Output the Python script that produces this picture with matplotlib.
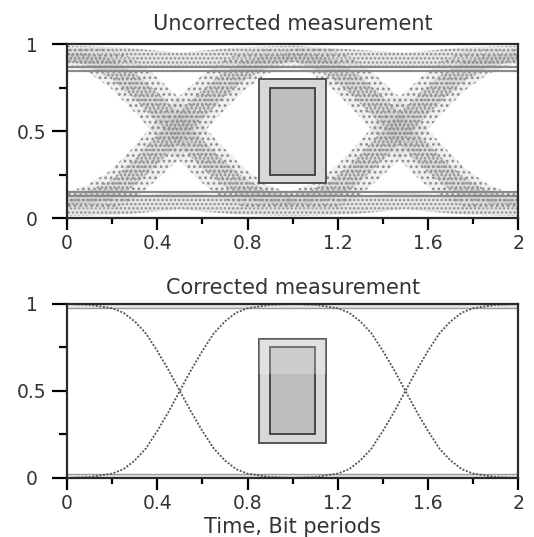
import matplotlib
matplotlib.use("Agg")
import matplotlib.pyplot as plt
import numpy as np

plt.rcParams['font.family'] = ['DejaVu Sans']
plt.rcParams['hatch.color'] = '#8e8e8e'
plt.rcParams['hatch.linewidth'] = 1.2

# ---- data ----
# x-axis ticks (bit periods)
major_ticks = [0, 0.4, 0.8, 1.2, 1.6, 2.0]
major_labels = ['0', '0.4', '0.8', '1.2', '1.6', '2']
minor_ticks = [0.2, 0.6, 1.0, 1.4, 1.8]
y_ticks = [0, 0.5, 1]
y_labels = ['0', '0.5', '1']
y_minor = [0.25, 0.75]

# eye mask (outer and inner rectangle): x0, x1, y0, y1
mask_outer = [0.85, 1.15, 0.20, 0.80]
mask_inner = [0.90, 1.10, 0.25, 0.75]
mask_split = 0.6   # lighter shade above this level in the corrected panel

# corrected: one falling edge, offsets from the crossing point
edge_off = [-0.5, -0.4, -0.3, -0.25, -0.2, -0.15, -0.1, -0.05, 0.0,
            0.05, 0.1, 0.15, 0.2, 0.25, 0.3, 0.4, 0.5]
edge_fall = [1.0, 0.995, 0.975, 0.95, 0.90, 0.83, 0.73, 0.62, 0.50,
             0.38, 0.27, 0.17, 0.10, 0.05, 0.025, 0.005, 0.0]
corr_cross = [0.5, 1.5]
corr_rails = [0.975, 0.025]

# uncorrected: noisy transition centre and spread
noisy_off = [-0.5, -0.4, -0.3, -0.2, -0.1, 0.0, 0.1, 0.2, 0.3, 0.4, 0.5]
noisy_fall = [0.93, 0.91, 0.86, 0.77, 0.65, 0.52, 0.38, 0.26, 0.17, 0.12, 0.10]
noisy_rise = [0.10, 0.12, 0.16, 0.25, 0.38, 0.51, 0.64, 0.76, 0.85, 0.90, 0.92]
noisy_spread = [0.04, 0.07, 0.11, 0.15, 0.17, 0.18, 0.17, 0.15, 0.11, 0.07, 0.04]
noisy_cross = [0.49, 1.47]

# uncorrected: clouds around the two levels
rail_x = [0, 0.25, 0.5, 0.75, 1.0, 1.25, 1.5, 1.75, 2.0]
upper_hi = [0.99, 0.98, 0.95, 0.98, 0.99, 0.97, 0.95, 0.98, 0.99]
upper_lo = [0.89, 0.88, 0.86, 0.88, 0.90, 0.88, 0.86, 0.88, 0.89]
lower_hi = [0.11, 0.12, 0.15, 0.12, 0.10, 0.12, 0.15, 0.12, 0.10]
lower_lo = [0.01, 0.02, 0.05, 0.02, 0.01, 0.02, 0.05, 0.02, 0.01]
unc_rails = [0.868, 0.845, 0.150, 0.125]

fig = plt.figure(figsize=(5.34, 5.37), dpi=100)
ax1 = fig.add_axes([0.1255, 0.594, 0.845, 0.324])
ax2 = fig.add_axes([0.1255, 0.110, 0.845, 0.324])

sparse_kw = dict(facecolor='#d2d2d2', edgecolor='none', linewidth=0,
                 alpha=0.35, hatch='...')
dense_kw = dict(facecolor='#bcbcbc', edgecolor='none', linewidth=0,
                alpha=0.35, hatch='....')

# --- uncorrected panel ---
ax1.fill_between(rail_x, upper_lo, upper_hi, **dense_kw)
ax1.fill_between(rail_x, lower_lo, lower_hi, **dense_kw)
off = np.array(noisy_off)
spr = np.array(noisy_spread)
for c in [noisy_cross[0] - 1, noisy_cross[0], noisy_cross[1], noisy_cross[1] + 1]:
    for curve in (noisy_fall, noisy_rise):
        yc = np.array(curve)
        ax1.fill_between(off + c, yc - spr, yc + spr, **sparse_kw)
        ax1.fill_between(off + c, yc - spr * 0.5, yc + spr * 0.5, **dense_kw)
for r in unc_rails:
    ax1.axhline(r, color='#8a8a8a', lw=1.6)

# --- corrected panel ---
eo = np.array(edge_off)
ef = np.array(edge_fall)
er = 1 - ef
line_kw = dict(color='#555555', lw=1.3, linestyle=(0, (1.1, 0.9)))
ax2.axhspan(corr_rails[0], 1, color='#e6e6e6', lw=0)
ax2.axhspan(0, corr_rails[1], color='#e6e6e6', lw=0)
for r in corr_rails:
    ax2.axhline(r, color='#9a9a9a', lw=1.0)
xa = np.concatenate([eo + corr_cross[0], eo + corr_cross[1]])
ya = np.concatenate([ef, er])
yb = np.concatenate([er, ef])
ax2.plot(xa, ya, **line_kw)
ax2.plot(xa, yb, **line_kw)

# --- mask rectangles ---
for ax in (ax1, ax2):
    x0, x1, y0, y1 = mask_outer
    ax.add_patch(plt.Rectangle((x0, y0), x1 - x0, y1 - y0, facecolor='#d8d8d8',
                               edgecolor='#4a4a4a', lw=1.3, zorder=3))
    x0, x1, y0, y1 = mask_inner
    ax.add_patch(plt.Rectangle((x0, y0), x1 - x0, y1 - y0, facecolor='#bdbdbd',
                               edgecolor='#3c3c3c', lw=1.3, zorder=4))

# lighter upper part in the corrected mask
x0, x1, y0, y1 = mask_outer
ax2.add_patch(plt.Rectangle((x0, mask_split), x1 - x0, y1 - mask_split,
                            facecolor='white', edgecolor='none', alpha=0.25, zorder=5))

for ax in (ax1, ax2):
    ax.set_xlim(0, 2)
    ax.set_ylim(0, 1)
    ax.set_xticks(major_ticks)
    ax.set_xticks(minor_ticks, minor=True)
    ax.set_yticks(y_ticks)
    ax.set_yticks(y_minor, minor=True)
    ax.set_xticklabels(major_labels)
    ax.set_yticklabels(y_labels, ha='center')
    ax.tick_params(axis='x', which='major', direction='out', length=8.5, width=1.6,
                   pad=3, labelsize=13.5, labelcolor='#333333')
    ax.tick_params(axis='x', which='minor', direction='out', length=4.5, width=1.6)
    ax.tick_params(axis='y', which='major', direction='out', length=10.5, width=1.6,
                   pad=15, labelsize=13.5, labelcolor='#333333')
    ax.tick_params(axis='y', which='minor', direction='out', length=6, width=1.6)
    for s in ax.spines.values():
        s.set_linewidth(1.6)
        s.set_color('#2a2a2a')
        s.set_zorder(10)

ax1.set_title('Uncorrected measurement', fontsize=15, color='#333333', pad=10)
ax2.set_title('Corrected measurement', fontsize=15, color='#333333', pad=7)
ax2.set_xlabel('Time, Bit periods', fontsize=15, color='#333333', labelpad=3)

fig.savefig('out.png', dpi=100)
